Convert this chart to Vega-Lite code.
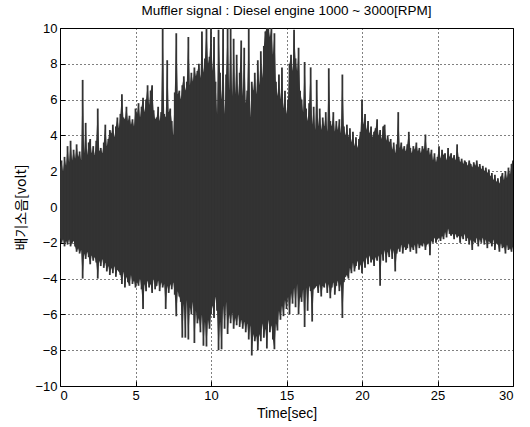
{
"$schema":"https://vega.github.io/schema/vega-lite/v6.json",
"width":453,"height":358,
"autosize":{"type":"none"},
"padding":{"left":60,"top":28,"right":17,"bottom":41},
"background":"white",
"title":{"text":"Muffler signal : Diesel engine 1000 ~ 3000[RPM]","font":"Liberation Sans","fontSize":13.5,"fontWeight":"normal","color":"black","offset":5},
"config":{"view":{"stroke":"black","strokeWidth":1},"axis":{"labelFont":"Liberation Sans","labelFontSize":13,"labelColor":"black","titleFont":"Liberation Sans","titleFontSize":14,"titleFontWeight":"normal","titleColor":"black","domain":false,"tickColor":"black","tickSize":-5,"gridColor":"black","gridDash":[1,3],"gridOpacity":1,"gridWidth":1}},
"data":{"values":[
{"t":0.0,"hi":2.2,"lo":-1.7},{"t":0.1,"hi":2.6,"lo":-2.0},{"t":0.2,"hi":2.0,"lo":-1.8},{"t":0.3,"hi":2.8,"lo":-2.2},{"t":0.4,"hi":2.3,"lo":-1.9},{"t":0.5,"hi":3.4,"lo":-2.1},{"t":0.6,"hi":2.5,"lo":-1.8},{"t":0.7,"hi":3.7,"lo":-2.2},{"t":0.8,"hi":2.6,"lo":-2.0},{"t":0.9,"hi":3.2,"lo":-1.9},
{"t":1.0,"hi":2.7,"lo":-2.2},{"t":1.1,"hi":3.5,"lo":-2.5},{"t":1.2,"hi":2.8,"lo":-2.3},{"t":1.3,"hi":3.1,"lo":-2.6},{"t":1.4,"hi":2.6,"lo":-2.4},{"t":1.5,"hi":7.1,"lo":-4.0},{"t":1.6,"hi":3.0,"lo":-2.6},{"t":1.7,"hi":4.7,"lo":-2.9},{"t":1.8,"hi":2.9,"lo":-2.5},{"t":1.9,"hi":3.6,"lo":-2.8},
{"t":2.0,"hi":3.8,"lo":-3.2},{"t":2.1,"hi":3.0,"lo":-2.7},{"t":2.2,"hi":3.4,"lo":-3.0},{"t":2.3,"hi":2.9,"lo":-2.8},{"t":2.4,"hi":3.7,"lo":-3.1},{"t":2.5,"hi":5.5,"lo":-4.0},{"t":2.6,"hi":3.1,"lo":-3.0},{"t":2.7,"hi":3.3,"lo":-3.3},{"t":2.8,"hi":3.0,"lo":-2.9},{"t":2.9,"hi":3.6,"lo":-3.4},
{"t":3.0,"hi":4.6,"lo":-3.1},{"t":3.1,"hi":3.4,"lo":-3.6},{"t":3.2,"hi":3.8,"lo":-3.3},{"t":3.3,"hi":4.3,"lo":-3.8},{"t":3.4,"hi":4.1,"lo":-3.4},{"t":3.5,"hi":4.6,"lo":-3.7},{"t":3.6,"hi":3.9,"lo":-3.3},{"t":3.7,"hi":4.5,"lo":-3.9},{"t":3.8,"hi":5.0,"lo":-3.5},{"t":3.9,"hi":4.4,"lo":-3.6},
{"t":4.0,"hi":5.2,"lo":-3.8},{"t":4.1,"hi":6.3,"lo":-4.3},{"t":4.2,"hi":5.0,"lo":-3.6},{"t":4.3,"hi":4.9,"lo":-4.5},{"t":4.4,"hi":5.6,"lo":-3.9},{"t":4.5,"hi":4.8,"lo":-4.2},{"t":4.6,"hi":5.1,"lo":-4.4},{"t":4.7,"hi":4.6,"lo":-3.8},{"t":4.8,"hi":4.9,"lo":-4.3},{"t":4.9,"hi":4.5,"lo":-4.1},
{"t":5.0,"hi":5.5,"lo":-4.5},{"t":5.1,"hi":5.2,"lo":-4.2},{"t":5.2,"hi":5.8,"lo":-4.4},{"t":5.3,"hi":5.0,"lo":-4.0},{"t":5.4,"hi":5.6,"lo":-4.6},{"t":5.5,"hi":6.1,"lo":-5.7},{"t":5.6,"hi":5.3,"lo":-4.3},{"t":5.7,"hi":6.0,"lo":-4.7},{"t":5.8,"hi":6.8,"lo":-4.1},{"t":5.9,"hi":5.7,"lo":-4.5},
{"t":6.0,"hi":6.5,"lo":-4.3},{"t":6.1,"hi":6.8,"lo":-4.8},{"t":6.2,"hi":5.4,"lo":-4.0},{"t":6.3,"hi":4.9,"lo":-4.6},{"t":6.4,"hi":5.0,"lo":-4.4},{"t":6.5,"hi":5.6,"lo":-4.1},{"t":6.6,"hi":4.8,"lo":-4.7},{"t":6.7,"hi":5.3,"lo":-4.2},{"t":6.8,"hi":10,"lo":-4.5},{"t":6.9,"hi":5.2,"lo":-4.3},
{"t":7.0,"hi":5.0,"lo":-5.7},{"t":7.1,"hi":8.2,"lo":-4.4},{"t":7.2,"hi":5.3,"lo":-4.8},{"t":7.3,"hi":5.5,"lo":-4.3},{"t":7.4,"hi":4.8,"lo":-4.6},{"t":7.5,"hi":4.0,"lo":-4.2},{"t":7.6,"hi":6.4,"lo":-4.9},{"t":7.7,"hi":9.7,"lo":-6.1},{"t":7.8,"hi":6.3,"lo":-4.7},{"t":7.9,"hi":6.5,"lo":-5.0},
{"t":8.0,"hi":6.0,"lo":-5.3},{"t":8.1,"hi":6.8,"lo":-7.3},{"t":8.2,"hi":7.3,"lo":-5.4},{"t":8.3,"hi":6.5,"lo":-7.3},{"t":8.4,"hi":7.0,"lo":-5.2},{"t":8.5,"hi":9.5,"lo":-7.4},{"t":8.6,"hi":6.8,"lo":-5.6},{"t":8.7,"hi":7.5,"lo":-6.0},{"t":8.8,"hi":7.0,"lo":-5.3},{"t":8.9,"hi":7.8,"lo":-7.6},
{"t":9.0,"hi":7.3,"lo":-5.8},{"t":9.1,"hi":7.6,"lo":-6.5},{"t":9.2,"hi":8.0,"lo":-6.2},{"t":9.3,"hi":7.2,"lo":-7.0},{"t":9.4,"hi":9.8,"lo":-6.0},{"t":9.5,"hi":7.5,"lo":-7.75},{"t":9.6,"hi":8.3,"lo":-6.4},{"t":9.7,"hi":10,"lo":-7.8},{"t":9.8,"hi":8.0,"lo":-6.3},{"t":9.9,"hi":8.4,"lo":-6.8},
{"t":10.0,"hi":10,"lo":-6.0},{"t":10.1,"hi":7.6,"lo":-5.5},{"t":10.2,"hi":9.5,"lo":-6.2},{"t":10.3,"hi":7.0,"lo":-5.0},{"t":10.4,"hi":5.2,"lo":-5.8},{"t":10.5,"hi":9.9,"lo":-8.0},{"t":10.6,"hi":7.5,"lo":-6.4},{"t":10.7,"hi":6.0,"lo":-7.95},{"t":10.8,"hi":10,"lo":-5.5},{"t":10.9,"hi":5.2,"lo":-6.8},
{"t":11.0,"hi":7.4,"lo":-5.3},{"t":11.1,"hi":10,"lo":-7.1},{"t":11.2,"hi":6.5,"lo":-6.0},{"t":11.3,"hi":10,"lo":-6.5},{"t":11.4,"hi":6.2,"lo":-5.9},{"t":11.5,"hi":9.4,"lo":-6.8},{"t":11.6,"hi":6.3,"lo":-6.2},{"t":11.7,"hi":8.5,"lo":-6.6},{"t":11.8,"hi":6.2,"lo":-6.0},{"t":11.9,"hi":7.5,"lo":-6.7},
{"t":12.0,"hi":9.3,"lo":-6.3},{"t":12.1,"hi":6.2,"lo":-6.8},{"t":12.2,"hi":8.9,"lo":-6.4},{"t":12.3,"hi":5.8,"lo":-7.0},{"t":12.4,"hi":6.5,"lo":-6.5},{"t":12.5,"hi":10,"lo":-7.4},{"t":12.6,"hi":5.0,"lo":-6.6},{"t":12.7,"hi":7.0,"lo":-8.3},{"t":12.8,"hi":6.5,"lo":-7.1},{"t":12.9,"hi":7.5,"lo":-7.5},
{"t":13.0,"hi":6.3,"lo":-7.2},{"t":13.1,"hi":8.2,"lo":-8.0},{"t":13.2,"hi":6.8,"lo":-7.1},{"t":13.3,"hi":8.7,"lo":-7.5},{"t":13.4,"hi":7.2,"lo":-6.5},{"t":13.5,"hi":9.0,"lo":-7.3},{"t":13.6,"hi":9.8,"lo":-6.8},{"t":13.7,"hi":10,"lo":-7.9},{"t":13.8,"hi":10,"lo":-6.3},{"t":13.9,"hi":9.5,"lo":-7.0},
{"t":14.0,"hi":10,"lo":-6.6},{"t":14.1,"hi":8.5,"lo":-7.4},{"t":14.2,"hi":9.7,"lo":-7.95},{"t":14.3,"hi":7.0,"lo":-6.5},{"t":14.4,"hi":6.2,"lo":-6.9},{"t":14.5,"hi":7.4,"lo":-5.8},{"t":14.6,"hi":6.0,"lo":-6.3},{"t":14.7,"hi":7.8,"lo":-5.5},{"t":14.8,"hi":5.5,"lo":-6.1},{"t":14.9,"hi":6.5,"lo":-5.2},
{"t":15.0,"hi":5.2,"lo":-5.7},{"t":15.1,"hi":6.0,"lo":-5.0},{"t":15.2,"hi":8.0,"lo":-6.0},{"t":15.3,"hi":8.5,"lo":-4.8},{"t":15.4,"hi":7.6,"lo":-5.4},{"t":15.5,"hi":9.9,"lo":-4.5},{"t":15.6,"hi":8.3,"lo":-5.6},{"t":15.7,"hi":7.6,"lo":-4.3},{"t":15.8,"hi":8.9,"lo":-6.0},{"t":15.9,"hi":6.5,"lo":-5.0},
{"t":16.0,"hi":6.0,"lo":-5.3},{"t":16.1,"hi":5.3,"lo":-4.6},{"t":16.2,"hi":8.1,"lo":-6.7},{"t":16.3,"hi":5.5,"lo":-4.5},{"t":16.4,"hi":4.8,"lo":-5.8},{"t":16.5,"hi":5.8,"lo":-4.4},{"t":16.6,"hi":7.8,"lo":-4.7},{"t":16.7,"hi":4.6,"lo":-6.4},{"t":16.8,"hi":5.6,"lo":-4.6},{"t":16.9,"hi":4.3,"lo":-4.5},
{"t":17.0,"hi":7.1,"lo":-4.4},{"t":17.1,"hi":4.5,"lo":-4.8},{"t":17.2,"hi":5.5,"lo":-4.3},{"t":17.3,"hi":4.3,"lo":-5.0},{"t":17.4,"hi":5.0,"lo":-4.4},{"t":17.5,"hi":4.5,"lo":-4.5},{"t":17.6,"hi":5.3,"lo":-4.2},{"t":17.7,"hi":4.2,"lo":-4.8},{"t":17.8,"hi":7.75,"lo":-4.3},{"t":17.9,"hi":4.8,"lo":-5.1},
{"t":18.0,"hi":4.5,"lo":-4.5},{"t":18.1,"hi":5.3,"lo":-4.2},{"t":18.2,"hi":4.2,"lo":-4.9},{"t":18.3,"hi":4.8,"lo":-4.4},{"t":18.4,"hi":4.3,"lo":-4.1},{"t":18.5,"hi":4.9,"lo":-4.7},{"t":18.6,"hi":4.1,"lo":-4.3},{"t":18.7,"hi":7.4,"lo":-6.2},{"t":18.8,"hi":4.5,"lo":-4.2},{"t":18.9,"hi":4.0,"lo":-3.9},
{"t":19.0,"hi":4.6,"lo":-3.8},{"t":19.1,"hi":3.9,"lo":-4.0},{"t":19.2,"hi":4.4,"lo":-3.4},{"t":19.3,"hi":3.6,"lo":-3.7},{"t":19.4,"hi":4.2,"lo":-3.1},{"t":19.5,"hi":3.4,"lo":-3.6},{"t":19.6,"hi":3.9,"lo":-3.3},{"t":19.7,"hi":3.3,"lo":-3.0},{"t":19.8,"hi":3.8,"lo":-3.5},{"t":19.9,"hi":4.2,"lo":-3.2},
{"t":20.0,"hi":6.0,"lo":-3.7},{"t":20.1,"hi":4.6,"lo":-3.0},{"t":20.2,"hi":5.2,"lo":-3.4},{"t":20.3,"hi":4.3,"lo":-2.8},{"t":20.4,"hi":4.8,"lo":-3.2},{"t":20.5,"hi":4.1,"lo":-2.7},{"t":20.6,"hi":4.5,"lo":-3.1},{"t":20.7,"hi":3.9,"lo":-2.9},{"t":20.8,"hi":4.2,"lo":-3.3},{"t":20.9,"hi":4.4,"lo":-2.8},
{"t":21.0,"hi":4.9,"lo":-3.0},{"t":21.1,"hi":4.0,"lo":-2.7},{"t":21.2,"hi":4.3,"lo":-4.4},{"t":21.3,"hi":3.8,"lo":-2.6},{"t":21.4,"hi":4.5,"lo":-3.0},{"t":21.5,"hi":4.6,"lo":-2.4},{"t":21.6,"hi":3.7,"lo":-3.1},{"t":21.7,"hi":4.0,"lo":-2.5},{"t":21.8,"hi":3.6,"lo":-2.8},{"t":21.9,"hi":3.8,"lo":-2.3},
{"t":22.0,"hi":3.2,"lo":-2.9},{"t":22.1,"hi":3.6,"lo":-2.4},{"t":22.2,"hi":3.0,"lo":-3.6},{"t":22.3,"hi":3.5,"lo":-2.6},{"t":22.4,"hi":5.3,"lo":-2.3},{"t":22.5,"hi":3.3,"lo":-2.5},{"t":22.6,"hi":3.6,"lo":-2.1},{"t":22.7,"hi":3.2,"lo":-2.6},{"t":22.8,"hi":3.4,"lo":-2.2},{"t":22.9,"hi":3.1,"lo":-2.4},
{"t":23.0,"hi":3.5,"lo":-2.3},{"t":23.1,"hi":4.2,"lo":-2.0},{"t":23.2,"hi":3.3,"lo":-2.5},{"t":23.3,"hi":3.0,"lo":-2.2},{"t":23.4,"hi":3.4,"lo":-2.4},{"t":23.5,"hi":3.2,"lo":-2.1},{"t":23.6,"hi":3.6,"lo":-2.6},{"t":23.7,"hi":3.1,"lo":-2.0},{"t":23.8,"hi":3.3,"lo":-2.3},{"t":23.9,"hi":3.0,"lo":-2.1},
{"t":24.0,"hi":3.4,"lo":-2.2},{"t":24.1,"hi":3.2,"lo":-2.0},{"t":24.2,"hi":4.05,"lo":-2.4},{"t":24.3,"hi":3.1,"lo":-2.1},{"t":24.4,"hi":3.3,"lo":-2.0},{"t":24.5,"hi":2.9,"lo":-2.7},{"t":24.6,"hi":3.2,"lo":-1.9},{"t":24.7,"hi":2.6,"lo":-2.0},{"t":24.8,"hi":3.0,"lo":-1.7},{"t":24.9,"hi":2.5,"lo":-2.0},
{"t":25.0,"hi":2.8,"lo":-1.8},{"t":25.1,"hi":3.4,"lo":-1.7},{"t":25.2,"hi":2.7,"lo":-1.9},{"t":25.3,"hi":3.2,"lo":-1.6},{"t":25.4,"hi":2.9,"lo":-1.8},{"t":25.5,"hi":3.0,"lo":-1.4},{"t":25.6,"hi":2.6,"lo":-1.7},{"t":25.7,"hi":3.3,"lo":-1.2},{"t":25.8,"hi":2.8,"lo":-1.5},{"t":25.9,"hi":3.0,"lo":-1.6},
{"t":26.0,"hi":2.7,"lo":-1.5},{"t":26.1,"hi":2.9,"lo":-1.8},{"t":26.2,"hi":2.6,"lo":-1.5},{"t":26.3,"hi":3.5,"lo":-1.7},{"t":26.4,"hi":2.8,"lo":-1.6},{"t":26.5,"hi":2.5,"lo":-2.0},{"t":26.6,"hi":2.7,"lo":-1.6},{"t":26.7,"hi":2.4,"lo":-1.8},{"t":26.8,"hi":2.6,"lo":-1.5},{"t":26.9,"hi":2.5,"lo":-1.9},
{"t":27.0,"hi":2.3,"lo":-1.7},{"t":27.1,"hi":2.6,"lo":-2.1},{"t":27.2,"hi":2.4,"lo":-1.8},{"t":27.3,"hi":2.2,"lo":-2.4},{"t":27.4,"hi":2.5,"lo":-1.9},{"t":27.5,"hi":2.3,"lo":-2.0},{"t":27.6,"hi":2.6,"lo":-1.7},{"t":27.7,"hi":2.2,"lo":-2.2},{"t":27.8,"hi":2.4,"lo":-1.8},{"t":27.9,"hi":2.1,"lo":-2.0},
{"t":28.0,"hi":2.3,"lo":-1.7},{"t":28.1,"hi":2.0,"lo":-2.1},{"t":28.2,"hi":2.2,"lo":-1.8},{"t":28.3,"hi":1.9,"lo":-2.3},{"t":28.4,"hi":2.1,"lo":-1.9},{"t":28.5,"hi":1.7,"lo":-2.0},{"t":28.6,"hi":1.9,"lo":-2.2},{"t":28.7,"hi":1.5,"lo":-1.8},{"t":28.8,"hi":1.8,"lo":-2.4},{"t":28.9,"hi":1.4,"lo":-2.0},
{"t":29.0,"hi":1.6,"lo":-2.1},{"t":29.1,"hi":1.3,"lo":-2.5},{"t":29.2,"hi":1.7,"lo":-2.0},{"t":29.3,"hi":1.9,"lo":-2.3},{"t":29.4,"hi":1.5,"lo":-2.2},{"t":29.5,"hi":2.0,"lo":-2.6},{"t":29.6,"hi":1.6,"lo":-2.1},{"t":29.7,"hi":2.2,"lo":-2.4},{"t":29.8,"hi":1.8,"lo":-2.3},{"t":29.9,"hi":2.4,"lo":-2.5},
{"t":30.0,"hi":2.6,"lo":-2.2}
]},
"encoding":{
"x":{"field":"t","type":"quantitative","scale":{"domain":[0,30],"nice":false},"axis":{"title":"Time[sec]","values":[0,5,10,15,20,25,30],"grid":true,"labelPadding":8,"titlePadding":4}},
"y":{"field":"hi","type":"quantitative","scale":{"domain":[-10,10],"nice":false},"axis":{"title":"배기소음[volt]","titleFont":"Noto Sans CJK KR","values":[-10,-8,-6,-4,-2,0,2,4,6,8,10],"grid":true,"labelPadding":8,"titlePadding":6}},
"y2":{"field":"lo"}
},
"layer":[
{"mark":{"type":"area","color":"#333333","opacity":1,"clip":true}},
{"mark":{"type":"rule","color":"#333333","strokeWidth":1.8,"strokeCap":"butt","clip":true}}
]
}
